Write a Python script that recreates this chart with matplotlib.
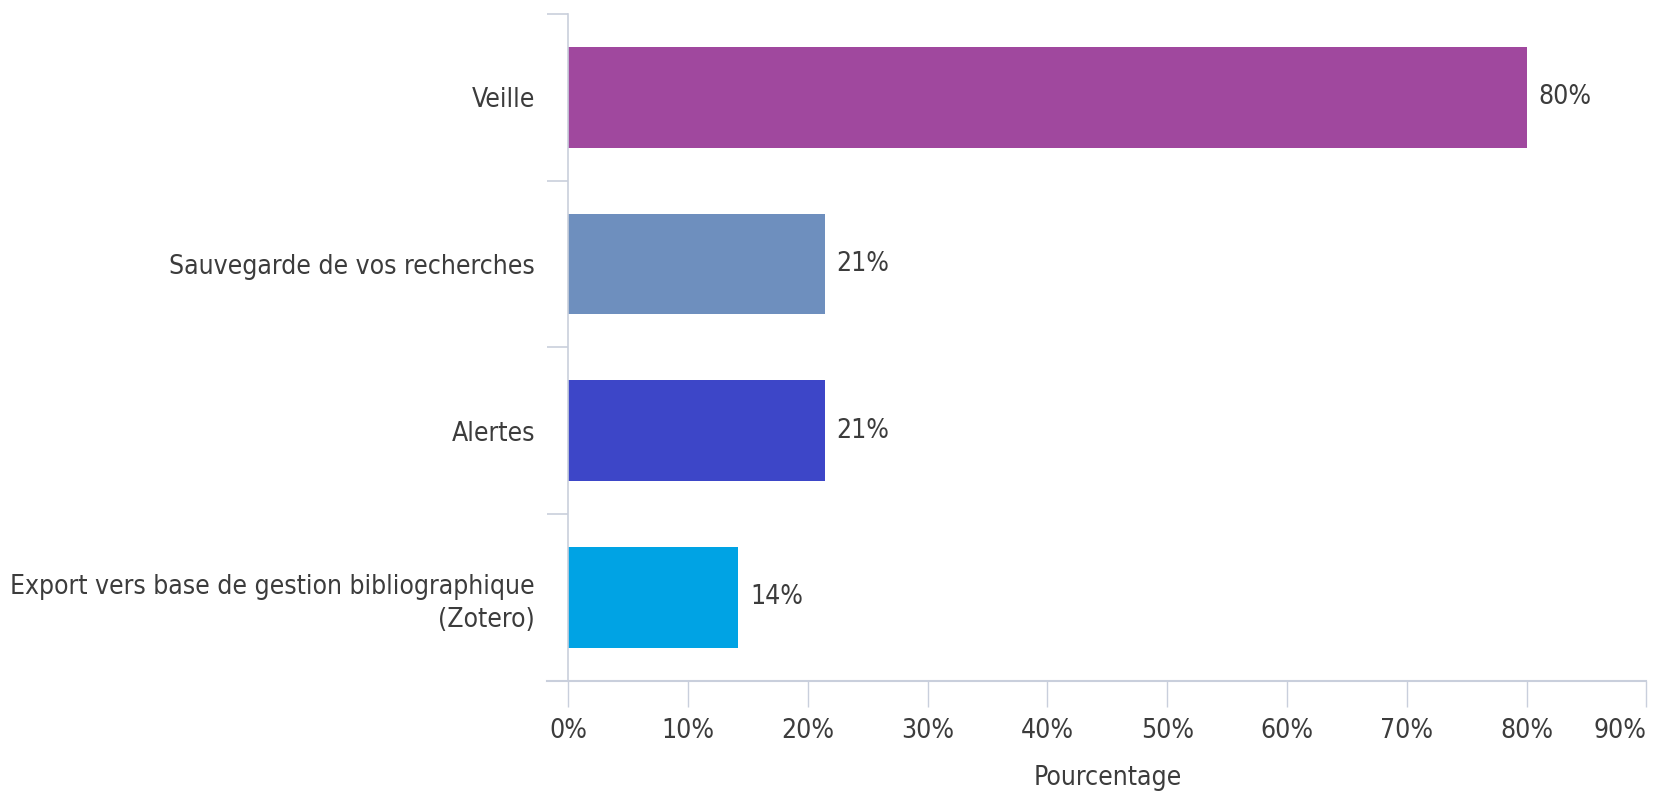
import matplotlib
matplotlib.use("Agg")
import matplotlib.pyplot as plt
from matplotlib.ticker import FixedLocator

# Data
categories = [
    "Veille",
    "Sauvegarde de vos recherches",
    "Alertes",
    "Export vers base de gestion bibliographique\n(Zotero)",
]
values = [80, 21.4, 21.4, 14.2]
value_labels = ["80%", "21%", "21%", "14%"]
colors = ["#A0489E", "#6E8FBE", "#3D46C8", "#00A3E4"]
xticks = list(range(0, 100, 10))

plt.rcParams["font.family"] = ["DejaVu Sans"]
plt.rcParams["font.stretch"] = "condensed"
text_color = "#3c3c3c"
axis_color = "#c9cfdc"
fs = 19

fig = plt.figure(figsize=(16.54, 7.95), dpi=100)
ax = fig.add_axes([0.3436, 0.1437, 0.6518, 0.8387])

y = list(range(len(categories)))
ax.barh(y, values, height=0.604, color=colors)
ax.set_ylim(len(categories) - 0.5, -0.5)
ax.set_xlim(0, 90)

for yi, v, lab in zip(y, values, value_labels):
    ax.annotate(lab, (v, yi), xytext=(8.4, 0), textcoords="offset points",
                va="center", ha="left", fontsize=fs, color=text_color)

ax.set_yticks(y)
ax.set_yticklabels(categories, fontsize=fs, color=text_color, ha="right",
                   linespacing=1.35)
ax.tick_params(axis="y", which="major", length=0, pad=24)
ax.yaxis.set_minor_locator(FixedLocator([i - 0.5 for i in range(len(categories) + 1)]))
ax.tick_params(axis="y", which="minor", length=15, width=1.2, color=axis_color)

ax.set_xticks(xticks)
ax.set_xticklabels([f"{t}%" for t in xticks], fontsize=fs, color=text_color)
ax.get_xticklabels()[-1].set_horizontalalignment("right")
ax.tick_params(axis="x", length=19, width=1.0, color=axis_color, pad=8)
ax.set_xlabel("Pourcentage", fontsize=fs, color=text_color, labelpad=15)

for side in ["top", "right"]:
    ax.spines[side].set_visible(False)
ax.spines["left"].set_color(axis_color)
ax.spines["left"].set_linewidth(1.2)
ax.spines["bottom"].set_visible(False)
# horizontal axis line runs a little past the left spine
ax.plot([-0.0195, 1.0], [0, 0], transform=ax.transAxes, color=axis_color,
        linewidth=1.5, clip_on=False)

fig.savefig("out.png", dpi=100, facecolor="white")
